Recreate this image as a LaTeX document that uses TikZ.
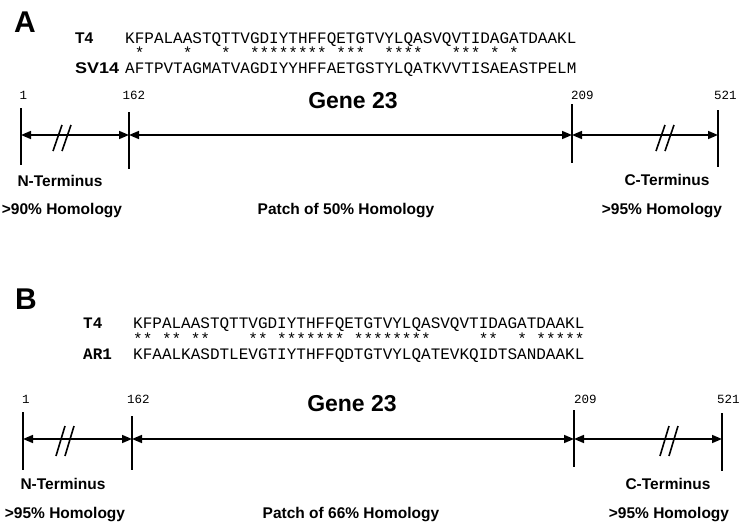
\documentclass[tikz,border=0pt]{standalone}
\usepackage{fontspec}
\setmainfont{Liberation Sans}
\setmonofont{Liberation Mono}
\usetikzlibrary{arrows.meta,calc}

\begin{document}
\begin{tikzpicture}[
    x=1pt, y=-1pt,
    panel/.style={font=\fontsize{30}{30}\selectfont\bfseries, inner sep=0pt},
    seq/.style={font=\fontsize{16}{16}\selectfont\ttfamily, inner sep=0pt, anchor=base west},
    seqname/.style={font=\fontsize{15.5}{16}\selectfont\bfseries, inner sep=0pt, anchor=base west},
    resno/.style={font=\fontsize{12.5}{13}\selectfont\ttfamily, inner sep=0pt, anchor=base west},
    gene/.style={font=\fontsize{23}{23}\selectfont\bfseries, inner sep=0pt},
    region/.style={font=\fontsize{15.5}{16}\selectfont\bfseries, inner sep=0pt},
    tick/.style={line width=1.8pt},
    span/.style={line width=1.6pt,
      {Triangle[length=10pt,width=8pt]}-{Triangle[length=10pt,width=8pt]}},
    brk/.style={line width=1.6pt},
  ]
    \useasboundingbox (0,0) rectangle (745,528);

    % ---------------- Panel A: T4 / SV14 ----------------
    \node[panel] (PanelA) at (25,22) {A};
    \node[seqname] (NameAT4) at (75,43) {T4};
    \node[seqname] (NameASV) at (75,73.5) {\scalebox{1.16}[1]{SV14}};
    \node[seq] (SeqAT4) at (125,43) {KFPALAASTQTTVGDIYTHFFQETGTVYLQASVQVTIDAGATDAAKL};
    \node[seq] (StarA) at (125,58.5) {~*~~~~*~~~*~~********~***~~****~~~***~*~*};
    \node[seq] (SeqASV) at (125,73.5) {AFTPVTAGMATVAGDIYYHFFAETGSTYLQATKVVTISAEASTPELM};

    \node[resno] (NumA1) at (19.5,99) {1};
    \node[resno] (NumA162) at (122.5,99) {162};
    \node[resno] (NumA209) at (571,99) {209};
    \node[resno] (NumA521) at (714,99) {521};

    \coordinate (TopA1) at (21,108);   \coordinate (BotA1) at (21,165);
    \coordinate (TopA2) at (129,112);  \coordinate (BotA2) at (129,169);
    \coordinate (TopA3) at (572,104);  \coordinate (BotA3) at (572,163);
    \coordinate (TopA4) at (718,110);  \coordinate (BotA4) at (718,167);
    \draw[tick] (TopA1) -- (BotA1);
    \draw[tick] (TopA2) -- (BotA2);
    \draw[tick] (TopA3) -- (BotA3);
    \draw[tick] (TopA4) -- (BotA4);

    \coordinate (AxA1) at (21,135);
    \coordinate (AxA2) at (129,135);
    \coordinate (AxA3) at (572,135);
    \coordinate (AxA4) at (718,135);
    \draw[span] (AxA1) -- (AxA2);
    \draw[span] (AxA2) -- (AxA3);
    \draw[span] (AxA3) -- (AxA4);

    % breaks on the two terminal spans
    \coordinate (BrkAN) at (62,138);
    \coordinate (BrkAC) at (665,138);
    \draw[brk] ($(BrkAN)+(-9,13)$) -- ($(BrkAN)+(0,-13)$);
    \draw[brk] ($(BrkAN)+(0,13)$) -- ($(BrkAN)+(9,-13)$);
    \draw[brk] ($(BrkAC)+(-9,13)$) -- ($(BrkAC)+(0,-13)$);
    \draw[brk] ($(BrkAC)+(0,13)$) -- ($(BrkAC)+(9,-13)$);

    \node[gene] (GeneA) at (353,101) {Gene 23};
    \node[region] (NTermA) at (60,181) {N-Terminus};
    \node[region] (CTermA) at (667,180) {C-Terminus};
    \node[region] (HomNA) at (62,211) {>90\% Homology};
    \node[region] (HomMA) at (346,211) {Patch of 50\% Homology};
    \node[region] (HomCA) at (662,211) {>95\% Homology};

    % ---------------- Panel B: T4 / AR1 ----------------
    \node[panel] (PanelB) at (26,299) {B};
    \node[seq, font=\fontsize{16}{16}\selectfont\ttfamily\bfseries] (NameBT4) at (83,328) {T4};
    \node[seq, font=\fontsize{16}{16}\selectfont\ttfamily\bfseries] (NameBAR) at (83,359) {AR1};
    \node[seq] (SeqBT4) at (133,328) {KFPALAASTQTTVGDIYTHFFQETGTVYLQASVQVTIDAGATDAAKL};
    \node[seq] (StarB) at (133,344) {**~**~**~~~~**~*******~********~~~~~**~~*~*****};
    \node[seq] (SeqBAR) at (133,359) {KFAALKASDTLEVGTIYTHFFQDTGTVYLQATEVKQIDTSANDAAKL};

    \node[resno] (NumB1) at (22,403) {1};
    \node[resno] (NumB162) at (127,403) {162};
    \node[resno] (NumB209) at (574,403) {209};
    \node[resno] (NumB521) at (717,403) {521};

    \coordinate (TopB1) at (23,412);   \coordinate (BotB1) at (23,470);
    \coordinate (TopB2) at (132,416);  \coordinate (BotB2) at (132,470);
    \coordinate (TopB3) at (574,410);  \coordinate (BotB3) at (574,467);
    \coordinate (TopB4) at (722,413);  \coordinate (BotB4) at (722,471);
    \draw[tick] (TopB1) -- (BotB1);
    \draw[tick] (TopB2) -- (BotB2);
    \draw[tick] (TopB3) -- (BotB3);
    \draw[tick] (TopB4) -- (BotB4);

    \coordinate (AxB1) at (23,439);
    \coordinate (AxB2) at (132,439);
    \coordinate (AxB3) at (574,439);
    \coordinate (AxB4) at (722,439);
    \draw[span] (AxB1) -- (AxB2);
    \draw[span] (AxB2) -- (AxB3);
    \draw[span] (AxB3) -- (AxB4);

    % breaks on the two terminal spans
    \coordinate (BrkBN) at (65,441);
    \coordinate (BrkBC) at (669,441);
    \draw[brk] ($(BrkBN)+(-9,15)$) -- ($(BrkBN)+(0,-15)$);
    \draw[brk] ($(BrkBN)+(0,15)$) -- ($(BrkBN)+(9,-15)$);
    \draw[brk] ($(BrkBC)+(-9,15)$) -- ($(BrkBC)+(0,-15)$);
    \draw[brk] ($(BrkBC)+(0,15)$) -- ($(BrkBC)+(9,-15)$);

    \node[gene] (GeneB) at (352,404) {Gene 23};
    \node[region] (NTermB) at (63,484) {N-Terminus};
    \node[region] (CTermB) at (668,484) {C-Terminus};
    \node[region] (HomNB) at (65,515) {>95\% Homology};
    \node[region] (HomMB) at (351,515) {Patch of 66\% Homology};
    \node[region] (HomCB) at (669,515) {>95\% Homology};
\end{tikzpicture}
\end{document}
